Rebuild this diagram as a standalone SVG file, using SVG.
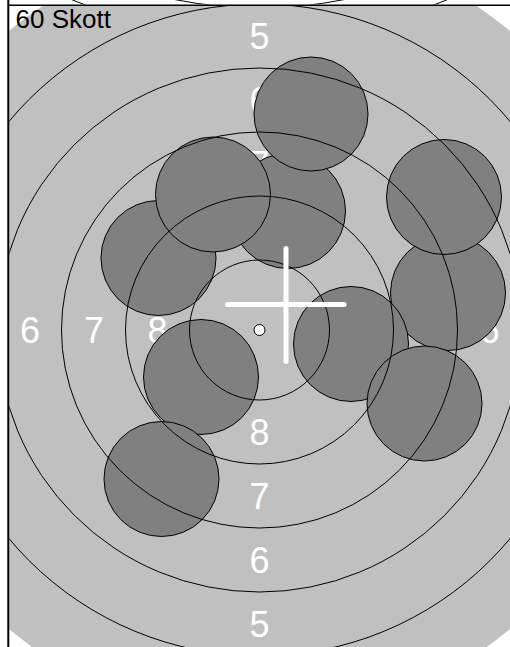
<svg xmlns="http://www.w3.org/2000/svg" width="510" height="647" viewBox="0 0 510 647">
<style>
.ring{fill:none;stroke:#000;stroke-width:1}
.shot{fill:#808080;stroke:#000;stroke-width:1}
.lbl{font-family:"Liberation Sans",Arial,sans-serif;font-size:36px;fill:#fff;text-anchor:middle}
.cross{stroke:#fff;stroke-width:5;stroke-linecap:round;fill:none}
</style>
<defs>
<clipPath id="inner"><rect x="9.3" y="6" width="501" height="641"/></clipPath>
<clipPath id="topstrip"><rect x="9.3" y="0" width="501" height="4.4"/></clipPath>
</defs>
<rect x="0" y="0" width="510" height="647" fill="#fff"/>
<g id="top-arcs" clip-path="url(#topstrip)">
<circle class="ring" cx="259.5" cy="-450" r="487.3"/>
<circle class="ring" cx="259.5" cy="-420" r="428"/>
</g>
<g id="target" clip-path="url(#inner)">
<circle cx="259.5" cy="330" r="390" fill="#c0c0c0"/>
<g id="labels">
<text class="lbl" x="259.5" y="49">5</text>
<text class="lbl" x="259.5" y="113">6</text>
<text class="lbl" x="259.5" y="177">7</text>
<text class="lbl" x="259.5" y="241">8</text>
<text class="lbl" x="259.5" y="445">8</text>
<text class="lbl" x="259.5" y="509">7</text>
<text class="lbl" x="259.5" y="573">6</text>
<text class="lbl" x="259.5" y="637">5</text>
<text class="lbl" x="30" y="343">6</text>
<text class="lbl" x="94" y="343">7</text>
<text class="lbl" x="157.5" y="343">8</text>
<text class="lbl" x="361.5" y="343">8</text>
<text class="lbl" x="425.5" y="343">7</text>
<text class="lbl" x="489.5" y="343">6</text>
</g>
<g id="shots">
<circle id="shot6" class="shot" cx="288" cy="211" r="57.5"/>
<circle id="shot8" class="shot" cx="158.5" cy="258" r="57.5"/>
<circle id="shot7" class="shot" cx="213" cy="194.5" r="57.5"/>
<circle id="shot1" class="shot" cx="311" cy="114" r="57"/>
<circle id="shot3" class="shot" cx="448" cy="293" r="57.5"/>
<circle id="shot2" class="shot" cx="444" cy="197" r="57.5"/>
<circle id="shot5" class="shot" cx="351" cy="344" r="57.5"/>
<circle id="shot4" class="shot" cx="424.5" cy="403.5" r="57.5"/>
<circle id="shot9" class="shot" cx="201" cy="377" r="57.5"/>
<circle id="shot10" class="shot" cx="161.5" cy="479" r="57.5"/>
</g>
<g id="rings">
<circle class="ring" cx="259.5" cy="330" r="70"/>
<circle class="ring" cx="259.5" cy="330" r="134"/>
<circle class="ring" cx="259.5" cy="330" r="198"/>
<circle class="ring" cx="259.5" cy="330" r="262"/>
<circle class="ring" cx="259.5" cy="330" r="326"/>
</g>
<g id="crosshair">
<line class="cross" x1="286" y1="248.5" x2="286" y2="361.5"/>
<line class="cross" x1="227.5" y1="304.5" x2="344" y2="304.5"/>
</g>
<circle id="center" cx="259.5" cy="330" r="5.5" fill="#fff" stroke="#000" stroke-width="1"/>
</g>
<g id="frame">
<line x1="8" y1="5.2" x2="510" y2="5.2" stroke="#000" stroke-width="1.6"/>
<line x1="8.3" y1="0" x2="8.3" y2="647" stroke="#000" stroke-width="2"/>
</g>
<text id="title" x="15.5" y="28" font-family="'Liberation Sans',Arial,sans-serif" font-size="26" fill="#000">60 Skott</text>
</svg>
